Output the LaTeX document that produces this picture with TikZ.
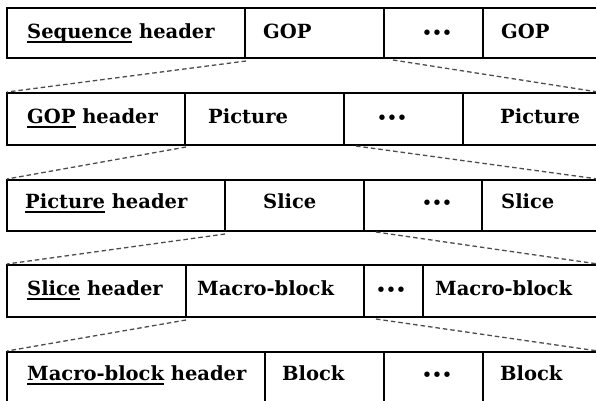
\documentclass[tikz,border=0pt]{standalone}
\usepackage{fontspec}
\setmainfont{DejaVu Serif}
\usetikzlibrary{calc}
% first word of a header label, with a heavy rule beneath it
\newsavebox\ulbox
\newcommand\ulword[1]{\sbox\ulbox{#1}\rlap{\rule[-4.5pt]{\wd\ulbox}{1.8pt}}\usebox\ulbox}

\begin{document}
\begin{tikzpicture}[x=1pt,y=-1pt,
  cell/.style={draw, line width=2.2pt, rectangle, inner sep=0pt, outer sep=0pt, anchor=north west},
  lbl/.style={anchor=base west, inner sep=0pt, font=\bfseries\fontsize{19.5}{22}\selectfont},
  dots/.style={anchor=base west, inner sep=0pt, font=\bfseries\fontsize{15.5}{18}\selectfont},
  link/.style={draw=black!70, line width=1.3pt, dash pattern=on 4.5pt off 3pt}]
\useasboundingbox (0,0) rectangle (596,400);
\clip (0,0) rectangle (596,400);

% sequence layer
\node[cell, minimum width=238pt, minimum height=50pt] (s1) at (7,8) {};
\node[cell, minimum width=139pt, minimum height=50pt] (s2) at (245,8) {};
\node[cell, minimum width=99pt,  minimum height=50pt] (s3) at (384,8) {};
\node[cell, minimum width=127pt, minimum height=50pt] (s4) at (483,8) {};
\node[lbl]  (s1t) at (27,38)  {\ulword{Sequence} header};
\node[lbl]  (s2t) at (263,38) {GOP};
\node[dots] (s3t) at (422,38) {•••};
\node[lbl]  (s4t) at (501,38) {GOP};

% GOP layer
\node[cell, minimum width=178pt, minimum height=52pt] (g1) at (7,93) {};
\node[cell, minimum width=159pt, minimum height=52pt] (g2) at (185,93) {};
\node[cell, minimum width=119pt, minimum height=52pt] (g3) at (344,93) {};
\node[cell, minimum width=147pt, minimum height=52pt] (g4) at (463,93) {};
\node[lbl]  (g1t) at (27,123)  {\ulword{GOP} header};
\node[lbl]  (g2t) at (208,123) {Picture};
\node[dots] (g3t) at (377,123) {•••};
\node[lbl]  (g4t) at (500,123) {Picture};

% picture layer
\node[cell, minimum width=218pt, minimum height=51pt] (p1) at (7,180) {};
\node[cell, minimum width=139pt, minimum height=51pt] (p2) at (225,180) {};
\node[cell, minimum width=118pt, minimum height=51pt] (p3) at (364,180) {};
\node[cell, minimum width=128pt, minimum height=51pt] (p4) at (482,180) {};
\node[lbl]  (p1t) at (25,208)  {\ulword{Picture} header};
\node[lbl]  (p2t) at (263,208) {Slice};
\node[dots] (p3t) at (422,208) {•••};
\node[lbl]  (p4t) at (501,208) {Slice};

% slice layer
\node[cell, minimum width=179pt, minimum height=52pt] (l1) at (7,265) {};
\node[cell, minimum width=178pt, minimum height=52pt] (l2) at (186,265) {};
\node[cell, minimum width=59pt,  minimum height=52pt] (l3) at (364,265) {};
\node[cell, minimum width=187pt, minimum height=52pt] (l4) at (423,265) {};
\node[lbl]  (l1t) at (27,295)  {\ulword{Slice} header};
\node[lbl]  (l2t) at (197,295) {Macro-block};
\node[dots] (l3t) at (376,295) {•••};
\node[lbl]  (l4t) at (435,295) {Macro-block};

% macro-block layer
\node[cell, minimum width=258pt, minimum height=55pt] (m1) at (7,352) {};
\node[cell, minimum width=119pt, minimum height=55pt] (m2) at (265,352) {};
\node[cell, minimum width=99pt,  minimum height=55pt] (m3) at (384,352) {};
\node[cell, minimum width=127pt, minimum height=55pt] (m4) at (483,352) {};
\node[lbl]  (m1t) at (27,380)  {\ulword{Macro-block} header};
\node[lbl]  (m2t) at (282,380) {Block};
\node[dots] (m3t) at (422,380) {•••};
\node[lbl]  (m4t) at (500,380) {Block};

% expansion of one element into the next layer
\draw[link] ($(s2.south west)+(1,3)$) -- ($(g1.north west)+(0,-1)$);
\draw[link] ($(s2.south east)+(9,2)$) -- ($(g4.north east)+(-12,-1)$);
\draw[link] ($(g2.south west)+(1,2)$) -- ($(p1.north west)+(0,-1)$);
\draw[link] ($(g2.south east)+(12,1)$) -- ($(p4.north east)+(-12,-1)$);
\draw[link] ($(p2.south west)+(0,3)$) -- ($(l1.north west)+(0,-1)$);
\draw[link] ($(p2.south east)+(12,1)$) -- ($(l4.north east)+(-12,-1)$);
\draw[link] ($(l2.south west)+(0,3)$) -- ($(m1.north west)+(0,-1)$);
\draw[link] ($(l2.south east)+(12,2)$) -- ($(m4.north east)+(-12,-1)$);
\end{tikzpicture}
\end{document}
